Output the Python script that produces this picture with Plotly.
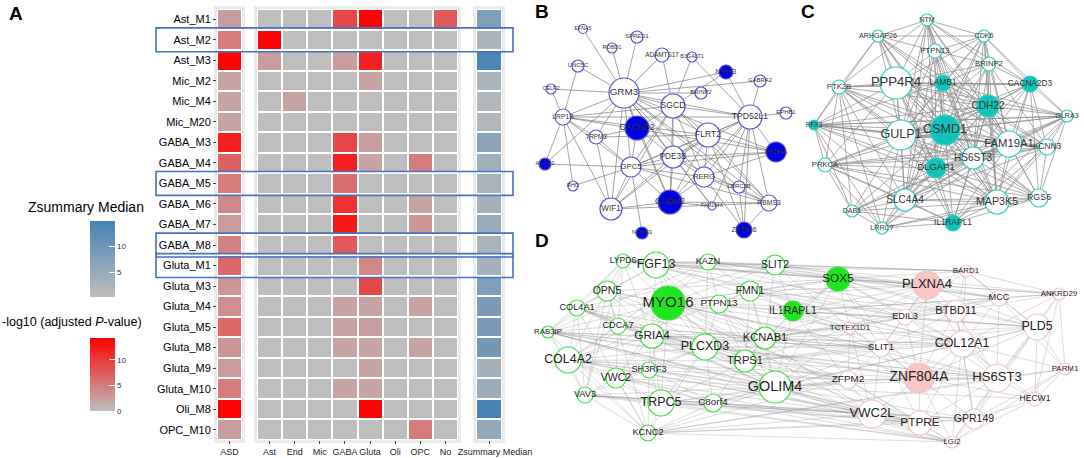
import plotly.graph_objects as go

W, H = 1084, 458
FONT = "Arial, Liberation Sans, sans-serif"

# ---------------- Panel A data ----------------
rows = ["Ast_M1", "Ast_M2", "Ast_M3", "Mic_M2", "Mic_M4", "Mic_M20",
        "GABA_M3", "GABA_M4", "GABA_M5", "GABA_M6", "GABA_M7", "GABA_M8",
        "Gluta_M1", "Gluta_M3", "Gluta_M4", "Gluta_M5", "Gluta_M8", "Gluta_M9",
        "Gluta_M10", "Oli_M8", "OPC_M10"]
celltypes = ["Ast", "End", "Mic", "GABA", "Gluta", "Oli", "OPC", "No"]
asd = [2.5, 5, 14, 2, 2, 2, 12, 7, 5, 4, 2.5, 4.5, 6.5, 3, 3.5, 6.5, 3, 2.5, 5, 14, 2.5]
celltype_p = [
    [0, 0, 0, 9, 14, 0, 0, 7.5],
    [14, 0, 0, 0, 0, 0, 0, 0],
    [2.5, 0, 0, 2.5, 12, 0, 0, 0],
    [0, 0, 0, 0, 2, 0, 0, 0],
    [0, 2, 0, 0, 0, 0, 0, 0],
    [0, 0, 0, 0, 0, 0, 0, 0],
    [0, 0, 0, 9, 2.5, 0, 0, 0],
    [0, 0, 0, 12, 2, 0, 5, 0],
    [0, 0, 0, 6, 0, 0, 0, 0],
    [0, 0, 0, 10.5, 0, 0, 2, 0],
    [0, 0, 0, 12.5, 0, 0, 3, 0],
    [0, 0, 0, 7.5, 0, 0, 0, 0],
    [0, 0, 0, 0, 4, 0, 0, 0],
    [0, 0, 0, 0, 9, 0, 0, 0],
    [0, 0, 0, 2, 2, 0, 2, 0],
    [0, 0, 0, 2, 2.5, 0, 0, 0],
    [0, 0, 0, 2, 2, 0, 2, 0],
    [0, 0, 0, 0, 2, 0, 0, 0],
    [0, 0, 0, 2, 2, 0, 0, 0],
    [0, 0, 0, 0, 14, 0, 0, 0],
    [0, 0, 0, 0, 0, 0, 5, 0],
]
zsummary = [8, 2.5, 14, 2.5, 2, 2, 6.5, 4, 3, 3.5, 5, 3, 3.5, 8, 8.5, 8.5, 9.5, 3.5, 4.5, 14.5, 5.5]
highlight_rows = ["Ast_M2", "GABA_M5", "GABA_M8", "Gluta_M1"]
red_ticks = [0, 5, 10]
blue_ticks = [5, 10]

# ---------------- Panel B network ----------------
b_names = ["EFNA5", "ROBO1", "SPRED1", "ADAMTS17", "UNC5C", "CELF2", "GRM3", "LRP1B",
           "B3GALT1", "NTRK3", "GABRA2", "BRINP2", "SGCD", "TPD52L1", "EPHB1",
           "TRPM3", "CACNB2", "ASAP2", "GPC5", "RHO", "WIF1", "NRXN3",
           "FLRT2", "RORA", "PDE3B", "RERG", "LRRC3B", "CADM2", "FAM184A", "RBMS3", "ZBTB16"]
b_x = [583, 612, 637, 662, 578, 551, 624, 563, 692, 726, 760, 701, 673, 750, 786,
       596, 637, 545, 631, 573, 611, 642, 708, 776, 673, 704, 739, 670, 712, 769, 744]
b_y = [29, 48, 37, 55, 66, 89, 93, 117, 57, 72, 81, 93, 106, 117, 113,
       137, 128, 164, 167, 186, 209, 233, 135, 152, 157, 177, 187, 202, 206, 203, 230]
b_r = [4.5, 5, 6, 7, 6, 5, 15, 8, 5, 7, 6, 6, 12, 12, 6,
       7, 12, 6, 10, 5, 11, 6, 12, 10, 11, 10, 6, 12, 4, 8, 8]
b_hit = ["CACNB2", "NTRK3", "ASAP2", "RORA", "CADM2", "NRXN3", "ZBTB16"]
b_adj = {
    "GRM3": "EFNA5 ROBO1 SPRED1 UNC5C CELF2 LRP1B SGCD ADAMTS17 NTRK3 GABRA2 BRINP2 TPD52L1 CACNB2 TRPM3 FLRT2 PDE3B GPC5 RERG WIF1 CADM2 ASAP2 FAM184A RBMS3 RORA LRRC3B",
    "SGCD": "B3GALT1 ADAMTS17 NTRK3 TPD52L1 LRP1B FLRT2 PDE3B GPC5 RERG CADM2 WIF1 RBMS3 CACNB2",
    "TPD52L1": "EPHB1 GABRA2 NTRK3 FLRT2 RORA RERG RBMS3 PDE3B ZBTB16 LRP1B GPC5 FAM184A LRRC3B CADM2 B3GALT1",
    "LRP1B": "CELF2 UNC5C TRPM3 RHO WIF1 ASAP2 FLRT2 RORA GPC5",
    "FLRT2": "RORA RBMS3 RERG PDE3B GPC5 WIF1 CADM2 TRPM3 ZBTB16",
    "PDE3B": "GPC5 CADM2 RERG RORA WIF1 RBMS3 FAM184A",
    "GPC5": "WIF1 CADM2 RERG ASAP2 RHO TRPM3 NRXN3 RORA RBMS3",
    "RERG": "CADM2 RBMS3 ZBTB16 RORA LRRC3B",
    "CADM2": "WIF1 FAM184A RBMS3 CACNB2",
    "CACNB2": "TRPM3 GPC5 PDE3B",
    "WIF1": "TRPM3 RBMS3",
    "ZBTB16": "RBMS3 LRRC3B",
}

# ---------------- Panel C network ----------------
c_names = ["NTM", "ARHGAP26", "CDK6", "PTPN13", "BRINP2", "PPP4R4", "LAMB1", "CACNA2D3",
           "PTK2B", "CDH22", "GLRA3", "RFX3", "GULP1", "CSMD1", "FAM19A1", "KCNN3",
           "HS6ST3", "PRKCA", "DLGAP1", "SLC4A4", "MAP3K5", "RGS6", "DAB1", "IL1RAPL1", "LRRC7"]
c_x = [927, 878, 984, 935, 989, 896, 943, 1030, 839, 988, 1067, 814, 901, 945, 1009, 1047,
       973, 825, 936, 905, 997, 1039, 852, 953, 882]
c_y = [20, 36, 36, 51, 64, 83, 83, 84, 87, 106, 116, 125, 135, 130, 144, 147,
       158, 165, 168, 200, 202, 198, 211, 223, 228]
c_r = [6, 6, 6, 7, 7, 16, 8, 8, 7, 11, 6, 5, 15, 15, 13, 8,
       11, 7, 10, 11, 12, 9, 6, 8, 6]
c_hit = ["LAMB1", "CACNA2D3", "CDH22", "RFX3", "CSMD1", "DLGAP1", "IL1RAPL1"]
c_adj = {
    "NTM": "ARHGAP26 CDK6 PTPN13 PPP4R4 LAMB1 BRINP2 CDH22 CSMD1 GULP1 FAM19A1 HS6ST3 DLGAP1 CACNA2D3 PTK2B SLC4A4 MAP3K5",
    "ARHGAP26": "PTPN13 PPP4R4 PTK2B LAMB1 CSMD1 GULP1 CDH22 HS6ST3 DLGAP1 FAM19A1 MAP3K5 CDK6 RFX3",
    "CDK6": "BRINP2 CACNA2D3 LAMB1 CDH22 CSMD1 FAM19A1 GULP1 PPP4R4 GLRA3 HS6ST3 MAP3K5 SLC4A4 PTPN13",
    "PTPN13": "LAMB1 PPP4R4 CSMD1 CDH22 GULP1 BRINP2 DLGAP1 FAM19A1 HS6ST3 SLC4A4",
    "BRINP2": "CACNA2D3 CDH22 LAMB1 CSMD1 FAM19A1 PPP4R4 GULP1 HS6ST3 MAP3K5 KCNN3 DLGAP1",
    "PPP4R4": "LAMB1 CSMD1 GULP1 PTK2B RFX3 CDH22 CACNA2D3 FAM19A1 HS6ST3 DLGAP1 SLC4A4 MAP3K5 KCNN3 GLRA3 PRKCA RGS6 IL1RAPL1",
    "LAMB1": "CDH22 CSMD1 GULP1 CACNA2D3 FAM19A1 HS6ST3 DLGAP1 SLC4A4 MAP3K5 PTK2B GLRA3 RFX3 KCNN3",
    "CACNA2D3": "CDH22 GLRA3 KCNN3 FAM19A1 CSMD1 GULP1 HS6ST3 MAP3K5 RGS6 DLGAP1 PTK2B",
    "PTK2B": "RFX3 GULP1 CSMD1 PRKCA DLGAP1 SLC4A4 CDH22 HS6ST3 DAB1 MAP3K5 FAM19A1 LRRC7",
    "CDH22": "CSMD1 GULP1 FAM19A1 KCNN3 GLRA3 HS6ST3 DLGAP1 MAP3K5 SLC4A4 RGS6 RFX3 PRKCA IL1RAPL1",
    "GLRA3": "KCNN3 FAM19A1 RGS6 MAP3K5 HS6ST3 CSMD1 GULP1 RFX3 DLGAP1 IL1RAPL1 SLC4A4",
    "RFX3": "GULP1 CSMD1 PRKCA DAB1 DLGAP1 FAM19A1 KCNN3 HS6ST3 SLC4A4 MAP3K5 LRRC7 GLRA3",
    "GULP1": "CSMD1 DLGAP1 HS6ST3 FAM19A1 SLC4A4 PRKCA MAP3K5 KCNN3 RGS6 IL1RAPL1 DAB1 LRRC7",
    "CSMD1": "FAM19A1 HS6ST3 DLGAP1 SLC4A4 MAP3K5 KCNN3 RGS6 IL1RAPL1 PRKCA DAB1 LRRC7",
    "FAM19A1": "KCNN3 HS6ST3 MAP3K5 RGS6 DLGAP1 SLC4A4 IL1RAPL1 PRKCA DAB1 LRRC7",
    "KCNN3": "RGS6 MAP3K5 HS6ST3 DLGAP1 SLC4A4 IL1RAPL1 PRKCA",
    "HS6ST3": "DLGAP1 SLC4A4 MAP3K5 RGS6 IL1RAPL1 PRKCA DAB1 LRRC7",
    "PRKCA": "DAB1 LRRC7 DLGAP1 SLC4A4 MAP3K5 IL1RAPL1 RGS6",
    "DLGAP1": "SLC4A4 MAP3K5 IL1RAPL1 RGS6 DAB1 LRRC7",
    "SLC4A4": "MAP3K5 IL1RAPL1 DAB1 LRRC7 RGS6",
    "MAP3K5": "RGS6 IL1RAPL1 LRRC7 DAB1",
    "RGS6": "IL1RAPL1 LRRC7",
    "DAB1": "LRRC7 IL1RAPL1",
    "IL1RAPL1": "LRRC7",
}

# ---------------- Panel D network ----------------
d_names = ["LYPD6", "FGF13", "KAZN", "SLIT2", "OPN5", "FMN1", "MYO16", "PTPN13", "IL1RAPL1",
           "COL4A1", "CDCA7", "RAB3IP", "GRIA4", "KCNAB1", "PLCXD3", "COL4A2", "TRPS1",
           "SH3RF3", "VWC2", "GOLIM4", "VAV3", "TRPC5", "C8orf4", "KCNC2", "SOX5",
           "PLXNA4", "BARD1", "MCC", "ANKRD29", "EDIL3", "BTBD11", "TCTEX1D1", "PLD5",
           "SLIT1", "COL12A1", "PARM1", "ZFPM2", "ZNF804A", "HS6ST3", "HECW1", "VWC2L",
           "PTPRE", "GPR149", "LGI2"]
d_x = [623, 656, 708, 775, 607, 750, 668, 719, 793, 577, 618, 548, 652, 765, 705, 568, 745,
       649, 616, 775, 585, 661, 713, 648, 838,
       927, 966, 999, 1059, 905, 956, 850, 1037, 881, 962, 1065, 848, 919, 997, 1035, 872,
       920, 974, 952]
d_y = [261, 265, 262, 265, 291, 291, 303, 304, 311, 308, 326, 332, 336, 338, 347, 360, 361,
       370, 378, 387, 395, 403, 403, 433, 279,
       285, 271, 298, 294, 317, 311, 328, 327, 348, 344, 369, 380, 378, 378, 399, 414,
       423, 419, 442]
d_r = [7, 13, 8, 10, 10, 10, 17, 9, 10, 8, 8, 6, 12, 11, 13, 13, 11,
       8, 10, 16, 8, 13, 9, 8, 12,
       14, 6, 8, 6, 8, 11, 6, 13, 9, 13, 6, 9, 15, 14, 7, 14,
       12, 10, 6]
d_green = ["LYPD6", "FGF13", "KAZN", "SLIT2", "OPN5", "FMN1", "MYO16", "PTPN13", "IL1RAPL1",
           "COL4A1", "CDCA7", "RAB3IP", "GRIA4", "KCNAB1", "PLCXD3", "COL4A2", "TRPS1",
           "SH3RF3", "VWC2", "GOLIM4", "VAV3", "TRPC5", "C8orf4", "KCNC2", "SOX5"]
d_hit = ["MYO16", "IL1RAPL1", "SOX5", "PLXNA4", "ZNF804A"]
d_adj = {
    "LYPD6": "FGF13 OPN5 COL4A1 CDCA7 RAB3IP VAV3 KAZN SLIT2 MYO16 GRIA4 PLXNA4 BARD1 SOX5 EDIL3",
    "FGF13": "KAZN SLIT2 MYO16 OPN5 COL4A1 GRIA4 PLCXD3 TRPS1 SOX5 PLXNA4 BARD1 BTBD11 TCTEX1D1 COL12A1 VWC2L",
    "KAZN": "SLIT2 MYO16 FMN1 PTPN13 PLCXD3 SOX5 PLXNA4 BARD1 MCC EDIL3 COL4A2 RAB3IP",
    "SLIT2": "FMN1 IL1RAPL1 SOX5 PLXNA4 BARD1 KCNAB1 MYO16 COL4A1 TCTEX1D1 ANKRD29 MCC",
    "OPN5": "COL4A1 MYO16 CDCA7 GRIA4 RAB3IP COL4A2 VAV3 KCNC2 PLCXD3 SLIT1 ZFPM2 SOX5",
    "FMN1": "MYO16 PTPN13 IL1RAPL1 KCNAB1 TRPS1 SOX5 PLXNA4 EDIL3 BTBD11 COL12A1 GOLIM4 COL4A2",
    "MYO16": "GRIA4 PLCXD3 COL4A2 TRPS1 KCNAB1 GOLIM4 TRPC5 SH3RF3 CDCA7 COL4A1 RAB3IP VWC2 SOX5 PLXNA4 TCTEX1D1 SLIT1 ZNF804A HS6ST3 PLD5 VWC2L PTPRE",
    "PTPN13": "PLCXD3 GOLIM4 IL1RAPL1 KCNAB1 TRPS1 SOX5 TCTEX1D1 BTBD11",
    "IL1RAPL1": "SOX5 KCNAB1 GOLIM4 TRPS1 PLXNA4 TCTEX1D1 EDIL3 MCC ANKRD29 PLD5 COL12A1 SLIT1 ZFPM2",
    "COL4A1": "RAB3IP CDCA7 COL4A2 VAV3 GRIA4 KCNC2 PLCXD3 TRPS1 GOLIM4 ZFPM2 VWC2L HS6ST3",
    "CDCA7": "GRIA4 COL4A2 RAB3IP VWC2 PLCXD3 KCNAB1 GOLIM4 SLIT1",
    "RAB3IP": "COL4A2 VAV3 KCNC2 GRIA4 PLCXD3 GOLIM4 TRPS1 ZFPM2 PTPRE VWC2L SLIT1 HS6ST3 LGI2",
    "GRIA4": "PLCXD3 SH3RF3 VWC2 TRPC5 COL4A2 KCNAB1 GOLIM4 TRPS1 TCTEX1D1 SLIT1 ZNF804A COL12A1",
    "KCNAB1": "TRPS1 GOLIM4 PLCXD3 SOX5 TCTEX1D1 EDIL3 BTBD11 PLXNA4 MCC PLD5 COL12A1 SLIT1",
    "PLCXD3": "TRPS1 GOLIM4 TRPC5 C8orf4 SH3RF3 KCNC2 COL4A2 VWC2 ZFPM2 SLIT1 ZNF804A HS6ST3 COL12A1",
    "COL4A2": "VAV3 VWC2 SH3RF3 TRPC5 KCNC2 GOLIM4 TRPS1 C8orf4 VWC2L PTPRE ZFPM2 ZNF804A",
    "TRPS1": "GOLIM4 C8orf4 TRPC5 SOX5 TCTEX1D1 SLIT1 ZFPM2 COL12A1 HS6ST3 PLD5 PTPRE",
    "SH3RF3": "VWC2 TRPC5 KCNC2 C8orf4 GOLIM4 VAV3 ZFPM2 VWC2L",
    "VWC2": "VAV3 TRPC5 KCNC2 GOLIM4 C8orf4 PTPRE LGI2",
    "GOLIM4": "TRPC5 C8orf4 KCNC2 SOX5 TCTEX1D1 SLIT1 ZFPM2 VWC2L PTPRE ZNF804A COL12A1 HS6ST3 GPR149 PLD5 LGI2 HECW1",
    "VAV3": "KCNC2 TRPC5 C8orf4 GOLIM4 PTPRE LGI2 VWC2L GPR149",
    "TRPC5": "C8orf4 KCNC2 VWC2L PTPRE ZFPM2 LGI2 GPR149",
    "C8orf4": "KCNC2 GOLIM4 VWC2L PTPRE LGI2 ZFPM2",
    "KCNC2": "VWC2L PTPRE LGI2 GPR149 ZFPM2 HS6ST3 PARM1",
    "SOX5": "PLXNA4 TCTEX1D1 EDIL3 BARD1 MCC BTBD11 ANKRD29 SLIT1 COL12A1 PLD5 ZNF804A",
    "PLXNA4": "BARD1 MCC EDIL3 BTBD11 TCTEX1D1 COL12A1 PLD5 ANKRD29 SLIT1 ZNF804A HS6ST3",
    "BARD1": "MCC ANKRD29 BTBD11 EDIL3 PLD5 COL12A1",
    "MCC": "ANKRD29 PLD5 BTBD11 COL12A1 HS6ST3 PARM1 EDIL3",
    "ANKRD29": "PLD5 PARM1 HS6ST3 BTBD11 COL12A1 HECW1",
    "EDIL3": "BTBD11 TCTEX1D1 SLIT1 COL12A1 ZNF804A HS6ST3 PLD5",
    "BTBD11": "COL12A1 PLD5 SLIT1 ZNF804A HS6ST3 GPR149",
    "TCTEX1D1": "SLIT1 ZFPM2 COL12A1 ZNF804A VWC2L",
    "PLD5": "COL12A1 PARM1 HS6ST3 HECW1 GPR149 ZNF804A LGI2",
    "SLIT1": "COL12A1 ZNF804A ZFPM2 VWC2L PTPRE HS6ST3",
    "COL12A1": "ZNF804A HS6ST3 PARM1 HECW1 GPR149 PTPRE LGI2",
    "PARM1": "HS6ST3 HECW1 GPR149 LGI2",
    "ZFPM2": "ZNF804A VWC2L PTPRE LGI2 HS6ST3",
    "ZNF804A": "HS6ST3 PTPRE GPR149 VWC2L LGI2 HECW1",
    "HS6ST3": "HECW1 GPR149 PTPRE LGI2",
    "HECW1": "GPR149 LGI2",
    "VWC2L": "PTPRE LGI2 GPR149",
    "PTPRE": "GPR149 LGI2",
    "GPR149": "LGI2",
}


def px(x):
    return x / W


def py(y):
    return 1 - y / H


fig = go.Figure()

# ---------------- Panel A ----------------
fig.add_trace(go.Heatmap(z=[[v] for v in asd], x=["ASD"], y=rows, coloraxis="coloraxis",
                         xgap=2, ygap=2, xaxis="x", yaxis="y", hoverinfo="skip"))
fig.add_trace(go.Heatmap(z=celltype_p, x=celltypes, y=rows, coloraxis="coloraxis",
                         xgap=2, ygap=2, xaxis="x2", yaxis="y2", hoverinfo="skip"))
fig.add_trace(go.Heatmap(z=[[v] for v in zsummary], x=["Zsummary Median"], y=rows,
                         coloraxis="coloraxis2", xgap=2, ygap=2, xaxis="x3", yaxis="y3",
                         hoverinfo="skip"))

ydom = [py(440), py(9)]
tickfont_x = dict(size=9, color="#222", family=FONT)
common_x = dict(type="category", ticks="outside", ticklen=3, tickcolor="#444", tickangle=0,
                tickfont=tickfont_x, showgrid=False, zeroline=False, showline=False,
                fixedrange=True, automargin=False)
common_y = dict(type="category", autorange="reversed", domain=ydom, showgrid=False,
                zeroline=False, showline=False, fixedrange=True, automargin=False)

shapes = []
# grey panel backgrounds, then white cell areas
for (x0, x1, c0, c1) in [(214, 245, 217, 242), (254, 461, 257, 458), (473, 505, 476, 502)]:
    shapes.append(dict(type="rect", xref="paper", yref="paper", x0=px(x0), x1=px(x1),
                       y0=py(443), y1=py(6), fillcolor="#ebebeb", line=dict(width=0), layer="below"))
    shapes.append(dict(type="rect", xref="paper", yref="paper", x0=px(c0), x1=px(c1),
                       y0=py(440), y1=py(9), fillcolor="white", line=dict(width=0), layer="below"))

# blue highlight boxes
for r in highlight_rows:
    i = rows.index(r)
    shapes.append(dict(type="rect", xref="paper", yref="y", x0=px(156), x1=px(513),
                       y0=i - 0.58, y1=i + 0.58, line=dict(color="#4472c4", width=1.6),
                       fillcolor="rgba(0,0,0,0)", layer="above"))

# ---------------- Networks ----------------
def add_network(names, xs, ys, rs, adj, ring, fill_of, edge_color, edge_w, fs_a, fs_b, txt):
    idx = {n: k for k, n in enumerate(names)}
    ex, ey = [], []
    for a, nb in adj.items():
        for b in nb.split():
            ex += [xs[idx[a]], xs[idx[b]], None]
            ey += [ys[idx[a]], ys[idx[b]], None]
    fig.add_trace(go.Scatter(x=ex, y=ey, mode="lines", line=dict(color=edge_color, width=edge_w),
                             xaxis="x4", yaxis="y4", hoverinfo="skip"))
    fig.add_trace(go.Scatter(
        x=xs, y=ys, mode="markers+text", text=names, textposition="middle center",
        textfont=dict(size=[fs_a + fs_b * r for r in rs], color=txt, family=FONT),
        marker=dict(size=[2 * r for r in rs], color=[fill_of(n) for n in names], opacity=1,
                    line=dict(color=[ring(n) for n in names], width=1.2)),
        opacity=1, xaxis="x4", yaxis="y4", hoverinfo="skip", cliponaxis=False))


add_network(b_names, b_x, b_y, b_r, b_adj,
            lambda n: "#5a55d8", lambda n: "#0000e0" if n in b_hit else "white",
            "rgba(120,120,120,0.75)", 0.9, 3.2, 0.45, "#333")
add_network(c_names, c_x, c_y, c_r, c_adj,
            lambda n: "#30d0c4", lambda n: "#12c3bb" if n in c_hit else "white",
            "rgba(140,140,140,0.7)", 1.0, 3.5, 0.6, "#333")
add_network(d_names, d_x, d_y, d_r, d_adj,
            lambda n: "#3ee03e" if n in d_green else "#f2c6c6",
            lambda n: ("#1ee61e" if n in d_green else "#f8c4c4") if n in d_hit else "white",
            "rgba(140,140,140,0.5)", 0.6, 4.0, 0.65, "#222")

# ---------------- Layout ----------------
def note(text, x, y, size, bold=False):
    return dict(text=f"<b>{text}</b>" if bold else text, x=px(x), y=py(y), xref="paper",
                yref="paper", xanchor="center", yanchor="middle", showarrow=False,
                font=dict(size=size, family=FONT, color="black"))


annotations = [
    note("A", 16, 13, 19, True),
    note("B", 542, 12, 19, True),
    note("C", 808, 12, 19, True),
    note("D", 542, 240, 19, True),
    note("Zsummary Median", 86, 207, 14),
    note("-log10 (adjusted <i>P</i>-value)", 72, 322, 12.5),
]

cb_common = dict(xanchor="left", yanchor="middle", thickness=25, thicknessmode="pixels",
                 lenmode="pixels", outlinewidth=0, ticks="inside", ticklen=6, tickcolor="white",
                 xpad=0, ypad=0,
                 tickfont=dict(size=8, color="#2a2a5a", family=FONT), title=dict(text=""))

fig.update_layout(
    width=W, height=H, margin=dict(l=0, r=0, t=0, b=0, autoexpand=False),
    paper_bgcolor="white", plot_bgcolor="rgba(0,0,0,0)", showlegend=False,
    font=dict(family=FONT),
    xaxis=dict(domain=[px(217), px(242)], anchor="y", **common_x),
    yaxis=dict(anchor="x", ticks="outside", ticklen=3, tickcolor="#444",
               tickfont=dict(size=11, color="black", family=FONT), **common_y),
    xaxis2=dict(domain=[px(257), px(458)], anchor="y2", **common_x),
    yaxis2=dict(anchor="x2", showticklabels=False, **common_y),
    xaxis3=dict(domain=[px(476), px(502)], anchor="y3", ticklabelshift=6, **common_x),
    yaxis3=dict(anchor="x3", showticklabels=False, **common_y),
    xaxis4=dict(domain=[px(530), 1], range=[530, 1084], visible=False, anchor="y4", fixedrange=True),
    yaxis4=dict(domain=[0, 1], range=[458, 0], visible=False, anchor="x4", fixedrange=True),
    coloraxis=dict(colorscale=[[0, "#bebebe"], [1, "#ff0000"]], cmin=0, cmax=14.3,
                   colorbar=dict(x=px(90), y=py(374.5), len=73, tickvals=red_ticks, **cb_common)),
    coloraxis2=dict(colorscale=[[0, "#bebebe"], [1, "#4682b4"]], cmin=0.3, cmax=14.8,
                    colorbar=dict(x=px(90), y=py(259), len=76, tickvals=blue_ticks, **cb_common)),
    shapes=shapes, annotations=annotations,
)

fig.write_html("out.html", config={"displayModeBar": False},
               post_script="document.body.style.margin='0';document.body.style.overflow='hidden';")
